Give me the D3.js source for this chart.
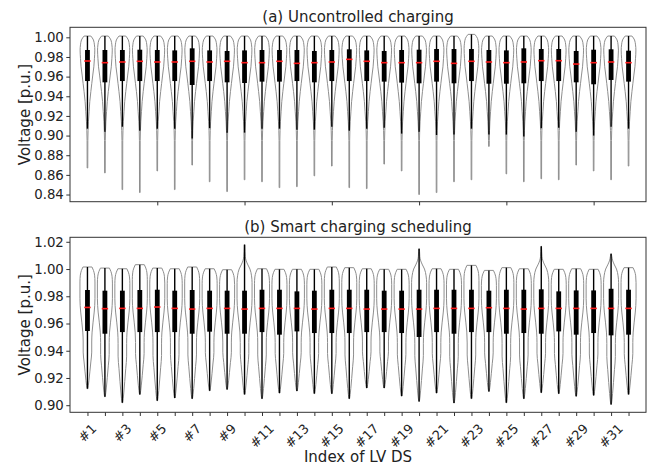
<!DOCTYPE html>
<html>
<head>
<meta charset="utf-8">
<script src="https://cdn.jsdelivr.net/npm/d3@7"></script>
<style>
  body { margin: 0; background: #fff; }
  svg { display: block; font-family: "DejaVu Sans", sans-serif; }
</style>
</head>
<body>
<svg id="chart" width="655" height="470"></svg>
<script>
// LV distribution systems
const districts = ["#1","#2","#3","#4","#5","#6","#7","#8","#9","#10","#11","#12","#13","#14","#15","#16",
  "#17","#18","#19","#20","#21","#22","#23","#24","#25","#26","#27","#28","#29","#30","#31","#32"];

// (a) uncontrolled charging: voltage statistics per district [p.u.]
const unctlMax = [1.0013,1.0013,1.0013,1.0013,1.0013,1.0013,1.0013,1.0013,1.0013,1.0013,1.0013,1.0013,1.0013,1.0013,1.0013,1.0013,
  1.0013,1.0013,1.0013,1.0013,1.0013,1.0013,1.0030,1.0013,1.0013,1.0013,1.0013,1.0013,1.0013,1.0013,1.0013,1.0013];
const unctlQ3 = [0.9871,0.9871,0.9871,0.9874,0.9871,0.9867,0.9888,0.9867,0.9861,0.9867,0.9871,0.9871,0.9871,0.9861,0.9871,0.9878,
  0.9867,0.9861,0.9871,0.9874,0.9881,0.9881,0.9881,0.9871,0.9867,0.9888,0.9881,0.9881,0.9861,0.9874,0.9878,0.9864];
const unctlMedian = [0.9759,0.9742,0.9749,0.9756,0.9749,0.9749,0.9756,0.9749,0.9756,0.9742,0.9742,0.9756,0.9735,0.9742,0.9749,0.9776,
  0.9756,0.9742,0.9742,0.9742,0.9756,0.9735,0.9756,0.9749,0.9742,0.9749,0.9762,0.9762,0.9728,0.9742,0.9749,0.9742];
const unctlQ1 = [0.9555,0.9542,0.9555,0.9555,0.9555,0.9555,0.9515,0.9555,0.9542,0.9535,0.9549,0.9549,0.9555,0.9542,0.9555,0.9555,
  0.9555,0.9549,0.9539,0.9532,0.9549,0.9532,0.9555,0.9528,0.9528,0.9532,0.9555,0.9555,0.9542,0.9522,0.9566,0.9549];
const unctlWhiskLo = [0.907,0.904,0.909,0.905,0.907,0.907,0.897,0.9075,0.903,0.903,0.907,0.907,0.906,0.906,0.909,0.905,
  0.907,0.908,0.902,0.904,0.9006,0.901,0.907,0.901,0.901,0.899,0.9074,0.908,0.904,0.900,0.909,0.907];
const unctlMin = [0.867,0.862,0.845,0.842,0.864,0.845,0.870,0.853,0.843,0.855,0.853,0.847,0.848,0.859,0.869,0.847,
  0.846,0.871,0.864,0.840,0.842,0.853,0.855,0.889,0.861,0.853,0.856,0.855,0.870,0.864,0.855,0.869];

// (b) smart charging scheduling: voltage statistics per district [p.u.]
const smartMax = [1.0015,1.0007,1.0002,1.0032,1.0007,1.0002,1.0015,1.0002,0.9995,1.0179,1.0002,0.9998,0.9998,0.9998,1.0015,1.0010,
  1.0002,0.9998,0.9998,1.0149,1.0002,0.9998,1.0027,0.9990,1.0010,1.0002,1.0167,0.9998,1.0002,0.9998,1.0112,1.0010];
const smartQ3 = [0.9846,0.9841,0.9841,0.9846,0.9848,0.9841,0.9846,0.9841,0.9841,0.9841,0.9848,0.9848,0.9836,0.9841,0.9848,0.9848,
  0.9848,0.9841,0.9841,0.9848,0.9848,0.9848,0.9848,0.9841,0.9848,0.9848,0.9851,0.9836,0.9843,0.9843,0.9855,0.9848];
const smartMedian = [0.9718,0.9709,0.9711,0.9711,0.9721,0.9711,0.9706,0.9711,0.9711,0.9706,0.9711,0.9711,0.9711,0.9706,0.9711,0.9711,
  0.9706,0.9706,0.9706,0.9706,0.9711,0.9711,0.9711,0.9716,0.9711,0.9706,0.9711,0.9711,0.9711,0.9711,0.9711,0.9711];
const smartQ1 = [0.9545,0.9525,0.9537,0.9537,0.9537,0.9537,0.9525,0.9540,0.9525,0.9525,0.9537,0.9518,0.9542,0.9530,0.9530,0.9530,
  0.9537,0.9537,0.9530,0.9501,0.9537,0.9525,0.9537,0.9537,0.9525,0.9530,0.9525,0.9542,0.9518,0.9530,0.9513,0.9518];
const smartMin = [0.9121,0.9062,0.9018,0.9079,0.9033,0.9053,0.9048,0.9106,0.9116,0.9079,0.9048,0.9089,0.9104,0.9085,0.9085,0.9048,
  0.9126,0.9126,0.9067,0.9028,0.9089,0.9016,0.9048,0.9101,0.9018,0.9048,0.9092,0.9085,0.9065,0.9072,0.9006,0.9079];

// axis ticks
const unctlYTicks = [0.84,0.86,0.88,0.90,0.92,0.94,0.96,0.98,1.00];
const smartYTicks = [0.90,0.92,0.94,0.96,0.98,1.00,1.02];
const unctlXTicks = [5,10,15,20,25,30];
const positions = districts.map((d, i) => i + 1);

// density outlines: [voltage, relative half width]
const unctlCap = [[0,0.45],[0.004,0.8],[0.009,0.93],[0.0143,0.98]];          // offset below each maximum
const unctlBody = [[0.9786,0.93],[0.970,0.85],[0.9616,0.71],[0.9532,0.58],[0.9447,0.45],
  [0.9345,0.31],[0.9243,0.22],[0.914,0.13],[0.905,0.08],[0.895,0.05]];
const smartCap = [[0,0.6],[0.0025,0.8],[0.006,0.95],[0.011,1.0]];
const smartSpike = [[1.013,0.06],[1.009,0.10],[1.006,0.22],[1.003,0.45],[1.000,0.72],[0.995,0.93],[0.990,1.0]];
const smartBody = [[0.9782,1.0],[0.9684,0.9],[0.961,0.75],[0.9537,0.62],[0.9464,0.57],[0.939,0.57],
  [0.9317,0.45],[0.9244,0.32],[0.9182,0.2],[0.9146,0.12],[0.912,0.04]];

const svg = d3.select("#chart");
const x = d3.scaleLinear().domain([0, 33]).range([70, 646]);
const halfWidth = 0.43;  // max violin half width in position units

const panels = [
  { title: "(a) Uncontrolled charging", top: 27.3, bottom: 201.7, domain: [0.8327, 1.0102],
    yTicks: unctlYTicks, xTicks: unctlXTicks, labelled: false,
    max: unctlMax, q3: unctlQ3, med: unctlMedian, q1: unctlQ1, lo: unctlWhiskLo, min: unctlMin,
    cap: unctlCap, body: unctlBody, tail: 0.04 },
  { title: "(b) Smart charging scheduling", top: 237.3, bottom: 412.3, domain: [0.8948, 1.0233],
    yTicks: smartYTicks, xTicks: positions, labelled: true,
    max: smartMax, q3: smartQ3, med: smartMedian, q1: smartQ1, lo: smartMin, min: smartMin,
    cap: smartCap, spike: smartSpike, spikeFrom: 1.006, body: smartBody, stretch: { pivot: 0.95, ref: 0.912 } }
];

function outlineNodes(p, i) {
  const mx = p.max[i], mn = p.min[i];
  let cap;
  if (p.spike && mx > p.spikeFrom) {
    cap = [[mx, 0.03]].concat(p.spike.filter(d => d[0] < mx - 0.0005));
  } else {
    cap = p.cap.map(([d, w]) => [mx - d, w]);
  }
  const capLow = cap[cap.length - 1][0];
  let body = p.body.filter(d => d[0] < capLow - 0.001);
  if (p.stretch) {
    // the lower tail follows each district's minimum
    const { pivot, ref } = p.stretch;
    const k = (pivot - mn) / (pivot - ref);
    body = body.map(([v, w]) => v < pivot ? [pivot - (pivot - v) * k, w] : [v, w]);
  } else {
    body = body.filter(d => d[0] > mn + 0.001);
    body.push([mn, p.tail]);
  }
  return cap.concat(body);
}

panels.forEach(p => {
  const y = d3.scaleLinear().domain(p.domain).range([p.bottom, p.top]);
  const g = svg.append("g");

  // violins
  positions.forEach((pos, i) => {
    const nodes = outlineNodes(p, i);
    const area = d3.area()
      .y(d => y(d[0]))
      .x0(d => x(pos - d[1] * halfWidth))
      .x1(d => x(pos + d[1] * halfWidth))
      .curve(d3.curveMonotoneY);
    g.append("path").attr("d", area(nodes))
      .attr("fill", "none").attr("stroke", "#8e8e8e").attr("stroke-width", 1);
    g.append("line")
      .attr("x1", x(pos)).attr("x2", x(pos))
      .attr("y1", y(p.lo[i])).attr("y2", y(p.max[i]))
      .attr("stroke", "#000").attr("stroke-width", 1.4);
    g.append("rect")
      .attr("x", x(pos) - 2.4).attr("width", 4.8)
      .attr("y", y(p.q3[i])).attr("height", y(p.q1[i]) - y(p.q3[i]))
      .attr("fill", "#000");
    g.append("line")
      .attr("x1", x(pos) - 3.2).attr("x2", x(pos) + 3.2)
      .attr("y1", y(p.med[i])).attr("y2", y(p.med[i]))
      .attr("stroke", "#ff1a1a").attr("stroke-width", 1.6);
  });

  // y axis
  const ya = g.append("g").attr("transform", `translate(${x(0)},0)`)
    .call(d3.axisLeft(y).tickValues(p.yTicks).tickFormat(d3.format(".2f")).tickSize(3.7).tickPadding(2.5));
  ya.select(".domain").remove();
  ya.selectAll("line").attr("stroke", "#333");
  ya.selectAll("text").attr("font-size", "13.3px").attr("fill", "#222").attr("font-family", "DejaVu Sans");

  // x axis
  const xa = g.append("g").attr("transform", `translate(0,${p.bottom})`)
    .call(d3.axisBottom(x).tickValues(p.xTicks).tickFormat("").tickSize(3.7));
  xa.select(".domain").remove();
  xa.selectAll("line").attr("stroke", "#333");

  if (p.labelled) {
    const fs = 13;
    const lab = g.append("g").attr("font-size", fs + "px").attr("fill", "#222")
      .attr("opacity", 0.99);
    positions.filter(k => k % 2 === 1).forEach(k => {
      const t = lab.append("text").text(districts[k - 1])
        .attr("text-anchor", "middle").attr("dominant-baseline", "central");
      const w = t.node().getComputedTextLength();
      const side = (w + 0.73 * fs) * Math.SQRT1_2;
      t.attr("transform", `translate(${x(k)},${p.bottom + 10.5 + side / 2}) rotate(-45)`);
    });
  }

  // frame
  g.append("rect")
    .attr("x", x(0)).attr("y", p.top)
    .attr("width", x(33) - x(0)).attr("height", p.bottom - p.top)
    .attr("fill", "none").attr("stroke", "#333").attr("stroke-width", 1);

  // title and y label
  g.append("text").text(p.title)
    .attr("x", (x(0) + x(33)) / 2).attr("y", p.top - 5.6)
    .attr("text-anchor", "middle").attr("font-size", "15px").attr("fill", "#222");
  g.append("text").text("Voltage [p.u.]")
    .attr("transform", `translate(30,${(p.top + p.bottom) / 2}) rotate(-90)`)
    .attr("text-anchor", "middle").attr("font-size", "15px").attr("fill", "#222");
});

svg.append("text").text("Index of LV DS")
  .attr("x", (x(0) + x(33)) / 2).attr("y", 461.7)
  .attr("text-anchor", "middle").attr("font-size", "15px").attr("fill", "#222");
</script>
</body>
</html>
